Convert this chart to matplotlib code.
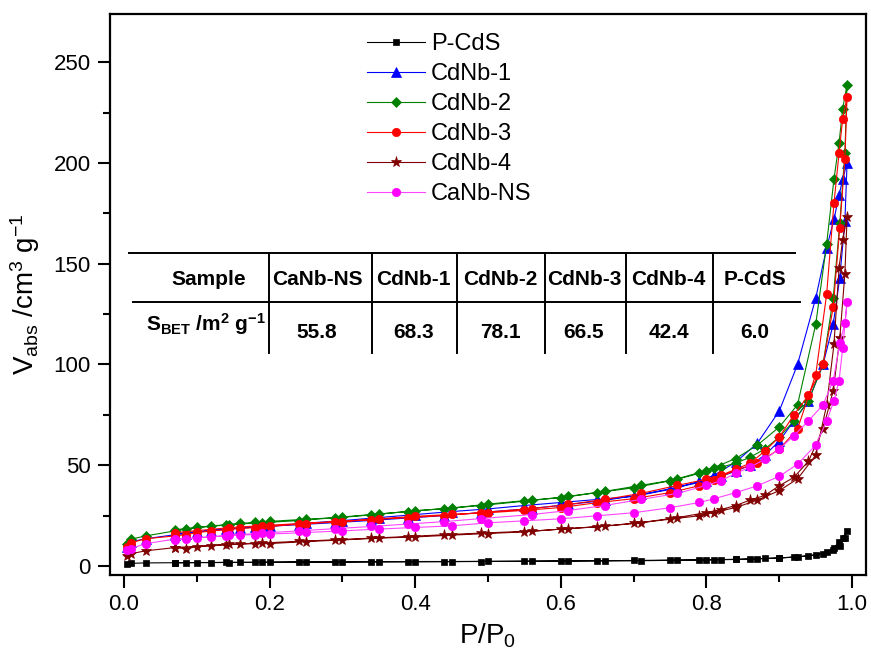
import matplotlib
matplotlib.use("Agg")
import matplotlib.pyplot as plt
import numpy as np

plt.rcParams["font.family"] = ["Liberation Sans", "DejaVu Sans"]
plt.rcParams["mathtext.fontset"] = "custom"
plt.rcParams["mathtext.rm"] = "Liberation Sans"
plt.rcParams["mathtext.it"] = "Liberation Sans:italic"
plt.rcParams["mathtext.bf"] = "Liberation Sans:bold"
plt.rcParams["mathtext.default"] = "regular"

# ── Relative pressure grids (adsorption up, desorption down) ─────────────────
p_ads = [0.005, 0.01, 0.03, 0.07, 0.085, 0.1, 0.12, 0.14, 0.16, 0.18, 0.2,
         0.25, 0.3, 0.35, 0.4, 0.45, 0.5, 0.55, 0.6, 0.65, 0.7, 0.75, 0.79,
         0.81, 0.84, 0.87, 0.9, 0.925, 0.95, 0.965, 0.975, 0.982, 0.987, 0.993]
p_des = [0.99, 0.983, 0.974, 0.96, 0.94, 0.92, 0.9, 0.88, 0.86, 0.84, 0.82,
         0.8, 0.76, 0.71, 0.66, 0.61, 0.56, 0.49, 0.44, 0.39, 0.34, 0.29,
         0.24, 0.19, 0.145, 0.07]

# ── Adsorbed volume (cm3/g) ──────────────────────────────────────────────────
pcds_ads = [1.2, 1.3, 1.5, 1.6, 1.6, 1.7, 1.7, 1.8, 1.8, 1.8, 1.9, 2.0, 2.0,
            2.1, 2.2, 2.2, 2.3, 2.4, 2.5, 2.6, 2.7, 2.9, 3.0, 3.1, 3.3, 3.6,
            3.9, 4.5, 5.5, 7.0, 9.0, 12.0, 14.0, 17.5]
pcds_des = [14.0, 10.0, 8.0, 6.0, 5.0, 4.4, 4.0, 3.7, 3.4, 3.2, 3.1, 3.0, 2.8,
            2.6, 2.5, 2.4, 2.3, 2.2, 2.1, 2.0, 2.0, 1.9, 1.9, 1.8, 1.7, 1.6]

cdnb1_ads = [9.5, 12.0, 13.5, 15.5, 16.0, 16.8, 17.5, 18.2, 18.8, 19.3, 19.8,
             21.2, 22.5, 24.0, 25.5, 27.0, 28.3, 30.0, 31.5, 33.0, 34.5, 38.0,
             42.0, 45.0, 51.5, 61.0, 77.0, 100.0, 133.0, 158.0, 172.0, 184.0,
             192.0, 200.0]
cdnb1_des = [171.0, 143.0, 120.0, 100.0, 82.0, 72.0, 62.0, 55.0, 50.0, 47.0,
             44.5, 42.3, 39.0, 35.5, 32.5, 30.5, 28.5, 26.5, 25.0, 23.8, 22.6,
             21.5, 20.5, 19.5, 18.5, 16.0]

cdnb2_ads = [11.0, 13.3, 14.9, 17.4, 18.3, 19.1, 19.9, 20.4, 21.1, 21.6, 22.1,
             23.2, 24.1, 25.7, 27.4, 28.7, 30.7, 32.4, 33.9, 36.4, 38.8, 42.3,
             46.3, 48.8, 53.3, 60.0, 69.0, 80.0, 120.0, 160.0, 192.0, 210.0,
             227.0, 239.0]
cdnb2_des = [205.0, 170.0, 133.0, 100.0, 82.0, 72.0, 64.0, 58.0, 54.0, 51.0,
             49.0, 47.0, 43.0, 40.0, 37.0, 34.5, 32.5, 30.0, 28.5, 27.0, 25.5,
             24.0, 22.5, 21.5, 20.5, 18.0]

cdnb3_ads = [9.5, 11.5, 13.5, 14.9, 15.5, 16.6, 17.3, 18.0, 18.6, 19.0, 19.6,
             21.0, 22.0, 23.4, 24.6, 25.6, 26.4, 27.6, 29.0, 31.4, 33.4, 36.4,
             39.8, 42.8, 47.5, 51.0, 58.0, 68.0, 95.0, 135.0, 180.0, 205.0,
             222.0, 233.0]
cdnb3_des = [202.0, 168.0, 128.5, 100.0, 84.7, 75.0, 64.0, 57.0, 51.0, 48.0,
             45.0, 43.0, 40.0, 36.0, 33.0, 30.5, 28.5, 26.5, 25.0, 24.0, 23.0,
             22.0, 21.0, 20.0, 19.0, 16.5]

cdnb4_ads = [5.0, 6.1, 7.5, 9.1, 8.6, 9.5, 10.0, 10.5, 10.8, 11.1, 11.1, 12.1,
             12.9, 13.8, 14.4, 15.3, 16.1, 16.9, 18.3, 19.4, 21.1, 23.2, 24.9,
             26.5, 29.0, 32.7, 37.4, 43.2, 55.0, 80.0, 110.0, 148.0, 162.0,
             173.0]
cdnb4_des = [145.0, 113.0, 87.0, 68.0, 52.0, 44.0, 39.8, 35.0, 32.7, 30.0,
             28.0, 26.5, 24.0, 21.5, 19.8, 18.5, 17.3, 16.3, 15.5, 14.6, 13.8,
             13.0, 12.2, 11.4, 10.8, 9.1]

canb_ads = [8.0, 8.6, 11.1, 13.3, 13.3, 14.1, 14.4, 15.0, 15.3, 15.6, 15.8,
            16.6, 17.4, 18.3, 19.1, 19.9, 21.4, 22.4, 23.4, 24.9, 26.4, 28.9,
            31.5, 33.3, 36.4, 39.8, 44.5, 50.5, 60.0, 72.0, 82.0, 92.0, 108.0,
            131.0]
canb_des = [120.5, 110.5, 92.0, 80.0, 72.0, 64.7, 58.0, 53.0, 49.0, 46.0,
            42.3, 40.0, 36.0, 33.0, 30.0, 27.5, 25.5, 23.5, 22.0, 20.8, 19.6,
            18.5, 17.4, 16.3, 15.2, 13.0]

# ── BET table ────────────────────────────────────────────────────────────────
table_samples = ["CaNb-NS", "CdNb-1", "CdNb-2", "CdNb-3", "CdNb-4", "P-CdS"]
table_sbet = ["55.8", "68.3", "78.1", "66.5", "42.4", "6.0"]

series = [
    ("P-CdS", pcds_ads, pcds_des, "black", "s", 5.0, "black"),
    ("CdNb-1", cdnb1_ads, cdnb1_des, "#0000ff", "^", 6.5, "#0000ff"),
    ("CdNb-2", cdnb2_ads, cdnb2_des, "#008000", "D", 5.5, "#008000"),
    ("CdNb-3", cdnb3_ads, cdnb3_des, "#ff0000", "o", 6.0, "#ff0000"),
    ("CdNb-4", cdnb4_ads, cdnb4_des, "#800000", "*", 8.0, "#800000"),
    ("CaNb-NS", canb_ads, canb_des, "#ff00ff", "o", 6.0, "#ff44ff"),
]

fig = plt.figure(figsize=(8.71, 6.55), dpi=100)
ax = fig.add_axes([110 / 871, 1 - 575 / 655, 756 / 871, 561 / 655])

for name, ads, des, col, mk, ms, lc in series:
    x = list(p_ads) + list(p_des)
    y = list(ads) + list(des)
    ax.plot(x, y, color=lc, lw=0.8, marker=mk, ms=ms, mfc=col, mec=col,
            mew=0.5, label=name)

ax.set_xlim(-0.019, 1.019)
ax.set_ylim(-4.5, 274)
ax.set_xticks(np.arange(0, 1.01, 0.2))
ax.set_xticks(np.arange(0.1, 1.0, 0.2), minor=True)
ax.set_xticklabels(["0.0", "0.2", "0.4", "0.6", "0.8", "1.0"])
ax.set_yticks(np.arange(0, 251, 50))
ax.set_yticks(np.arange(25, 275, 50), minor=True)
ax.tick_params(axis="both", which="major", direction="out", length=9,
               width=1.5, labelsize=16, pad=5)
ax.tick_params(axis="both", which="minor", direction="out", length=5,
               width=1.5)
for sp in ax.spines.values():
    sp.set_linewidth(1.6)

ax.set_xlabel("P/P$_0$", fontsize=20, labelpad=4)
ax.set_ylabel("V$_{abs}$ /cm$^3$ g$^{-1}$", fontsize=20, labelpad=8)

ax.legend(loc="upper left", bbox_to_anchor=(0.318, 0.995), frameon=False,
          fontsize=17, handlelength=2.45, handletextpad=0.25,
          labelspacing=0.34, borderaxespad=0.3)

# table drawn in axes fraction coordinates
tr = ax.transAxes
ax.plot([0.025, 0.906], [0.5745, 0.5745], color="black", lw=1.4,
        transform=tr, clip_on=False)
ax.plot([0.030, 0.913], [0.4872, 0.4872], color="black", lw=1.4,
        transform=tr, clip_on=False)
for xv in [0.2107, 0.3466, 0.459, 0.5754, 0.6825, 0.7976]:
    ax.plot([xv, xv], [0.5745, 0.3957], color="black", lw=1.4,
            transform=tr, clip_on=False)

col_centers = [0.274, 0.401, 0.516, 0.627, 0.739, 0.853]
ax.text(0.131, 0.5276, "Sample", transform=tr, ha="center", va="center",
        fontsize=15, fontweight="bold")
ax.text(0.1266, 0.447, r"S$_{\mathbf{BET}}$ /m$^{\mathbf{2}}$ g$^{\mathbf{-1}}$",
        transform=tr, ha="center", va="center", fontsize=15,
        fontweight="bold")
for cx, s, v in zip(col_centers, table_samples, table_sbet):
    ax.text(cx, 0.5276, s, transform=tr, ha="center", va="center",
            fontsize=15, fontweight="bold")
    ax.text(cx, 0.4314, v, transform=tr, ha="center", va="center",
            fontsize=15, fontweight="bold")

fig.savefig("out.png", dpi=100, facecolor="white")
